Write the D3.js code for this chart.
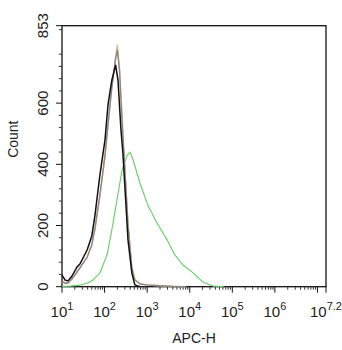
<!DOCTYPE html>
<html>
<head>
<meta charset="utf-8">
<script src="https://cdn.jsdelivr.net/npm/d3@7"></script>
<style>
  body { margin: 0; background: #fff; }
  text { font-family: "Liberation Sans", Arial, sans-serif; fill: #222; }
</style>
</head>
<body>
<div id="chart"></div>
<script>
// histogram traces, x given as log10(APC-H), y as counts
const black_log = [1.00, 1.07, 1.14, 1.235, 1.35, 1.42, 1.59, 1.70, 1.775, 1.89, 2.01, 2.08, 2.17, 2.26, 2.315, 2.385, 2.43, 2.55, 2.64, 2.71, 2.83];
const black_cnt = [38, 22, 19, 35, 64, 74, 120, 166, 234, 365, 480, 594, 675, 724, 675, 512, 437, 153, 45, 6, 0];

const gray_log = [1.00, 1.07, 1.14, 1.235, 1.35, 1.42, 1.59, 1.70, 1.775, 1.89, 2.01, 2.08, 2.17, 2.26, 2.30, 2.35, 2.43, 2.55, 2.64, 2.71, 2.83, 3.0, 3.3, 3.6, 3.9];
const gray_cnt = [19, 12, 12, 25, 48, 61, 97, 136, 192, 300, 430, 528, 650, 747, 773, 708, 496, 202, 61, 22, 9, 6, 3, 1, 0];

const tan_log = [1.00, 1.07, 1.14, 1.235, 1.35, 1.42, 1.59, 1.70, 1.775, 1.89, 2.01, 2.08, 2.17, 2.26, 2.30, 2.35, 2.43, 2.55, 2.64, 2.71, 2.83, 3.0, 3.3, 3.6, 3.9];
const tan_cnt = [17, 11, 13, 27, 46, 63, 95, 139, 188, 296, 425, 530, 655, 750, 790, 712, 500, 206, 64, 24, 10, 5, 3, 2, 0];

const green_log = [1.0, 1.2, 1.42, 1.6, 1.73, 1.89, 2.06, 2.17, 2.29, 2.41, 2.53, 2.60, 2.67, 2.83, 3.02, 3.23, 3.47, 3.65, 3.84, 4.08, 4.31, 4.55, 4.8];
const green_cnt = [1, 2, 5, 12, 22, 45, 105, 185, 283, 381, 430, 440, 414, 339, 265, 208, 153, 104, 71, 45, 15, 2, 0];

const y_ticks = [0, 200, 400, 600, 853];
const x_ticks = [1, 2, 3, 4, 5, 6, 7.2];   // exponents of 10

const margin = {top: 25.7, right: 16, bottom: 63.3, left: 62},
    W = 342, H = 350,
    width = W - margin.left - margin.right,
    height = H - margin.top - margin.bottom;

var x = d3.scaleLog()
    .domain([10, Math.pow(10, 7.2)])
    .range([0, width]);
var y = d3.scaleLinear()
    .domain([0, 853])
    .range([height, 0]);

var svg = d3.select("#chart")
    .append("svg")
    .attr("width", W)
    .attr("height", H)
    .append("g")
    .attr("transform", "translate(" + margin.left + "," + margin.top + ")");

// frame
svg.append("rect")
    .attr("x", 0).attr("y", 0)
    .attr("width", width).attr("height", height)
    .attr("fill", "none")
    .attr("stroke", "#111")
    .attr("stroke-width", 1.3);

// y axis ticks
let yMinor = d3.range(40, 853, 40).filter(d => d % 200 !== 0);
svg.append("g").selectAll("line.ymin")
    .data(yMinor).enter().append("line")
    .attr("x1", -3).attr("x2", 0)
    .attr("y1", d => y(d)).attr("y2", d => y(d))
    .attr("stroke", "#333");
svg.append("g").selectAll("line.ymaj")
    .data(y_ticks).enter().append("line")
    .attr("x1", -6).attr("x2", 0)
    .attr("y1", d => y(d)).attr("y2", d => y(d))
    .attr("stroke", "#111");
svg.append("g").selectAll("text")
    .data(y_ticks).enter().append("text")
    .attr("transform", d => "translate(-14," + y(d) + ") rotate(-90)")
    .attr("text-anchor", "middle")
    .attr("font-size", 15)
    .text(d => d);

// x axis ticks
let xMinor = [];
for (let e = 1; e < 7; e++) {
    for (let k = 2; k < 10; k++) xMinor.push(k * Math.pow(10, e));
}
svg.append("g").selectAll("line")
    .data(xMinor).enter().append("line")
    .attr("x1", d => x(d)).attr("x2", d => x(d))
    .attr("y1", height).attr("y2", height + 3)
    .attr("stroke", "#333");
svg.append("g").selectAll("line")
    .data([1, 2, 3, 4, 5, 6, 7, 7.2]).enter().append("line")
    .attr("x1", d => x(Math.pow(10, d))).attr("x2", d => x(Math.pow(10, d)))
    .attr("y1", height).attr("y2", height + 6)
    .attr("stroke", "#111");
let xl = svg.append("g").selectAll("text")
    .data(x_ticks).enter().append("text")
    .attr("x", d => x(Math.pow(10, d)))
    .attr("y", height + 30)
    .attr("text-anchor", "middle")
    .attr("font-size", 15);
xl.append("tspan").text("10");
xl.append("tspan")
    .attr("dy", -7)
    .attr("font-size", 11)
    .text(d => d);

// axis titles
svg.append("text")
    .attr("x", width / 2)
    .attr("y", height + 56)
    .attr("text-anchor", "middle")
    .attr("font-size", 14)
    .text("APC-H");
svg.append("text")
    .attr("transform", "translate(-44," + (height / 2 - 17) + ") rotate(-90)")
    .attr("text-anchor", "middle")
    .attr("font-size", 14)
    .text("Count");

// traces
var line = d3.line()
    .x(d => x(Math.pow(10, d[0])))
    .y(d => y(d[1]));

function trace(logs, cnts, color, w) {
    svg.append("path")
        .datum(logs.map((l, i) => [l, cnts[i]]))
        .attr("d", line)
        .attr("fill", "none")
        .attr("stroke", color)
        .attr("stroke-width", w)
        .attr("stroke-linejoin", "round");
}
trace(green_log, green_cnt, "#66cc66", 1.1);
trace(tan_log, tan_cnt, "#d8bc94", 1.4);
trace(gray_log, gray_cnt, "#8b8985", 1.4);
trace(black_log, black_cnt, "#111111", 1.5);
</script>
</body>
</html>
